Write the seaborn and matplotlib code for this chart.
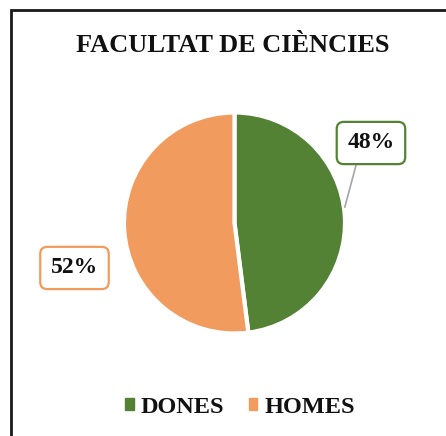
import numpy as np
import matplotlib
matplotlib.use("Agg")
import matplotlib.pyplot as plt
import seaborn as sns
from matplotlib.patches import Rectangle, Patch

sns.set_theme(style="white")
plt.rcParams['font.family'] = ['Liberation Serif', 'DejaVu Serif']

title = "FACULTAT DE CIÈNCIES"
categories = ["DONES", "HOMES"]
values = [48, 52]
colors = ["#548235", "#F29B5E"]

W, H = 446, 436
fig = plt.figure(figsize=(W / 100, H / 100), dpi=100)
fig.patch.set_facecolor("white")

# frame (top and left border visible)
fig.add_artist(Rectangle((10.5 / W, -0.5), 2.0, 1.5 - 10.5 / H, transform=fig.transFigure,
                         fill=False, edgecolor="#1a1a1a", linewidth=2.0))

cx, cy, r = 234.5, 223, 110.5
ax = fig.add_axes([(cx - r) / W, (H - cy - r) / H, 2 * r / W, 2 * r / H])
wedges, _ = ax.pie(values, colors=colors, startangle=90, counterclock=False,
                   wedgeprops=dict(edgecolor="white", linewidth=3), radius=1)
ax.set_xlim(-1, 1)
ax.set_ylim(-1, 1)
ax.set_aspect("equal")
ax.axis("off")

label_pos = [(1.235, 0.724), (-1.448, -0.407)]
for w, v, c, pos in zip(wedges, values, colors, label_pos):
    ang = np.deg2rad((w.theta1 + w.theta2) / 2)
    edge = (np.cos(ang), np.sin(ang) + 0.08)
    show_line = pos[0] > 0
    ax.annotate(f"{v}%", xy=edge if show_line else pos, xytext=pos,
                ha="center", va="center", fontsize=17, fontweight="bold", color="#111111",
                bbox=dict(boxstyle="round,pad=0.45,rounding_size=0.3", fc="white", ec=c, lw=1.6),
                arrowprops=dict(arrowstyle="-", color="#A6A6A6", lw=1.2,
                                shrinkA=0, shrinkB=0,
                                relpos=(0.25, 0.0)) if show_line else None,
                annotation_clip=False)

fig.text(233 / W, 1 - 45 / H, title, ha="center", va="center", fontsize=19,
         fontweight="bold", color="#111111")

handles = [Patch(facecolor=c, edgecolor=c) for c in colors]
leg = fig.legend(handles, categories, loc="center", bbox_to_anchor=(240 / W, 1 - 407 / H),
                 ncol=2, frameon=False, handlelength=0.35, handleheight=0.35,
                 handletextpad=0.3, columnspacing=1.0,
                 prop=dict(family="Liberation Serif", weight="bold", size=17.5))
for t in leg.get_texts():
    t.set_color("#111111")

fig.savefig("out.png", dpi=100, facecolor="white")
